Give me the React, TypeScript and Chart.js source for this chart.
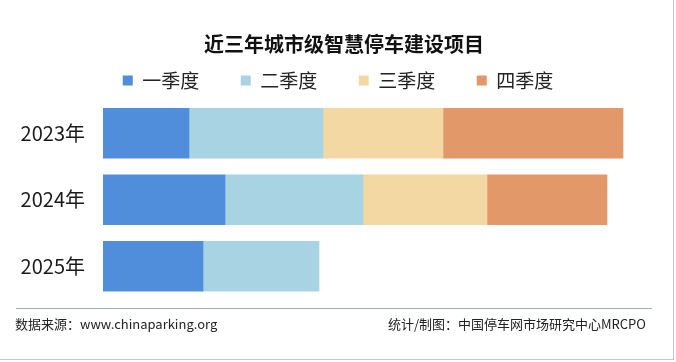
import React, { useEffect, useRef } from "react";
import { Chart, registerables } from "chart.js";

Chart.register(...registerables);

const titleText = "近三年城市级智慧停车建设项目";
const categories = ["2023年", "2024年", "2025年"];
const seriesNames = ["一季度", "二季度", "三季度", "四季度"];
const q1Values = [43, 61, 50];
const q2Values = [67, 69, 58];
const q3Values = [60, 62, null];
const q4Values = [90, 60, null];
const seriesColors = ["#508EDC", "#A7D3E3", "#F3D8A4", "#E29868"];
const sourceText = "数据来源：www.chinaparking.org";
const creditText = "统计/制图：中国停车网市场研究中心MRCPO";

const FONT = "'Noto Sans CJK SC', 'Noto Sans', sans-serif";

export default function App() {
  const canvasRef = useRef<HTMLCanvasElement | null>(null);

  useEffect(() => {
    document.body.style.margin = "0";
    const canvas = canvasRef.current;
    if (!canvas) return;
    const allValues = [q1Values, q2Values, q3Values, q4Values];
    const chart = new Chart(canvas, {
      type: "bar",
      data: {
        labels: categories,
        datasets: seriesNames.map((name, i) => ({
          label: name,
          data: allValues[i],
          backgroundColor: seriesColors[i],
          borderWidth: 0,
          barThickness: 50,
        })),
      },
      options: {
        indexAxis: "y",
        animation: false,
        responsive: false,
        maintainAspectRatio: false,
        layout: { padding: { top: 29.5, bottom: 62.5, left: 0, right: 0 } },
        plugins: {
          title: { display: false },
          tooltip: { enabled: false },
          legend: {
            display: true,
            position: "top",
            align: "center",
            labels: {
              boxWidth: 10,
              boxHeight: 10,
              padding: 41.5,
              color: "#222222",
              font: { family: FONT, size: 19 },
            },
          },
        },
        scales: {
          x: {
            stacked: true,
            display: false,
            min: 0,
            max: 286.5,
          },
          y: {
            stacked: true,
            grid: { display: false, drawTicks: false },
            border: { display: false },
            ticks: {
              color: "#1a1a1a",
              padding: 18,
              font: { family: FONT, size: 20 },
            },
            afterFit: (scale: any) => {
              scale.width = 103;
            },
          },
        },
      },
    });
    return () => chart.destroy();
  }, []);

  return (
    <div
      style={{
        position: "relative",
        width: 676,
        height: 362,
        background: "#ffffff",
        overflow: "hidden",
        fontFamily: FONT,
      }}
    >
      <canvas ref={canvasRef} width={676} height={362} style={{ position: "absolute", left: 0, top: 0 }} />
      <div
        style={{
          position: "absolute",
          left: 0,
          width: 688,
          top: 30,
          textAlign: "center",
          fontSize: 20,
          lineHeight: "28px",
          fontWeight: 700,
          color: "#111111",
        }}
      >
        {titleText}
      </div>
      <div
        style={{
          position: "absolute",
          left: 16,
          top: 308,
          width: 636,
          height: 0,
          borderTop: "1.5px solid #9fb0c4",
        }}
      />
      <div
        style={{
          position: "absolute",
          left: 15,
          top: 314,
          fontSize: 13,
          lineHeight: "20px",
          color: "#222222",
          whiteSpace: "nowrap",
        }}
      >
        {sourceText}
      </div>
      <div
        style={{
          position: "absolute",
          right: 676 - 646,
          top: 314,
          fontSize: 13,
          lineHeight: "20px",
          color: "#222222",
          whiteSpace: "nowrap",
        }}
      >
        {creditText}
      </div>
      <div
        style={{
          position: "absolute",
          left: 0,
          top: 0,
          width: 673,
          height: 359,
          borderRight: "1px solid #c8c8c8",
          borderBottom: "1px solid #c8c8c8",
          pointerEvents: "none",
        }}
      />
    </div>
  );
}
